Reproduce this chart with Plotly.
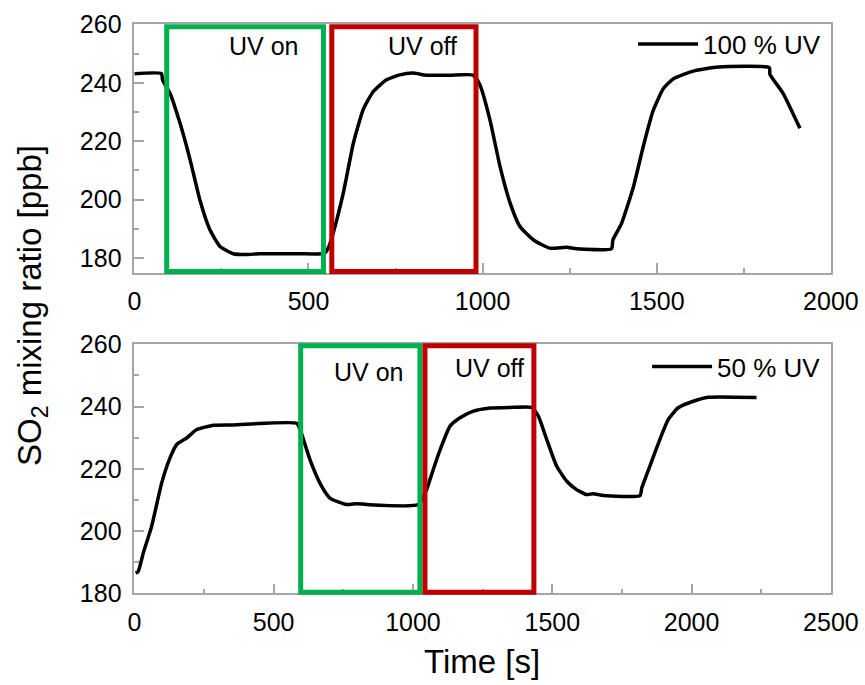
import plotly.graph_objects as go

# SO2 mixing ratio during UV on/off cycles, 100 % UV intensity
t_100 = [0, 78, 81, 102, 131, 160, 188, 217, 246, 284, 322, 361, 475, 545, 557, 571,
         600, 629, 657, 686, 724, 762, 800, 839, 906, 973, 992, 1021, 1050, 1079,
         1107, 1146, 1193, 1241, 1270, 1370, 1374, 1399, 1433, 1461, 1490, 1519,
         1548, 1605, 1677, 1823, 1825, 1863, 1911]
so2_100 = [243.1, 243.1, 241.0, 236.5, 226.2, 213.7, 200.0, 189.7, 184.0, 181.5, 181.2,
           181.5, 181.5, 181.6, 183.5, 188.6, 202.3, 219.4, 230.8, 237.0, 241.0, 242.7,
           243.3, 242.6, 242.6, 242.6, 239.3, 227.3, 211.3, 198.8, 190.8, 186.2, 183.4,
           183.7, 183.2, 183.2, 186.2, 191.9, 204.4, 218.1, 230.6, 238.0, 241.4, 244.0,
           245.4, 245.2, 242.9, 236.3, 224.4]

# SO2 mixing ratio during UV on/off cycles, 50 % UV intensity
t_50 = [5, 14, 32, 62, 98, 128, 152, 188, 224, 284, 355, 583, 595, 630, 666, 702, 762,
        798, 834, 1019, 1049, 1061, 1085, 1097, 1133, 1169, 1217, 1277, 1348, 1426,
        1450, 1480, 1516, 1552, 1587, 1623, 1647, 1683, 1815, 1821, 1850, 1886, 1916,
        1952, 2006, 2060, 2233]
so2_50 = [186.4, 187.0, 192.9, 201.5, 215.4, 223.5, 227.8, 229.9, 232.6, 234.0, 234.1,
          234.6, 232.6, 223.0, 215.4, 210.6, 208.5, 208.8, 208.5, 208.5, 213.3, 216.5,
          223.0, 226.0, 233.7, 236.4, 238.5, 239.5, 239.7, 239.7, 236.9, 229.4, 220.8,
          216.0, 213.3, 211.7, 212.0, 211.4, 211.4, 213.8, 220.8, 229.4, 235.8, 239.6,
          241.7, 243.0, 242.9]

# UV periods (start, end) highlighted by boxes
uv_on_100 = (93, 543)
uv_off_100 = (567, 981)
uv_on_50 = (597, 1025)
uv_off_50 = (1043, 1434)

FONT = "Liberation Sans, Arial, sans-serif"
GREEN = "#00B050"
RED = "#C00000"
FRAME = "#A6A6A6"

fig = go.Figure()
fig.add_trace(go.Scatter(x=t_100, y=so2_100, mode="lines", name="100 % UV",
                         line=dict(color="black", width=3.5, shape="spline", smoothing=0.5),
                         xaxis="x", yaxis="y", legend="legend"))
fig.add_trace(go.Scatter(x=t_50, y=so2_50, mode="lines", name="50 % UV",
                         line=dict(color="black", width=3.5, shape="spline", smoothing=0.5),
                         xaxis="x2", yaxis="y2", legend="legend2"))

axis_common = dict(
    showline=True, linecolor=FRAME, linewidth=1.5, mirror=True,
    ticks="inside", ticklen=10, tickwidth=1.5, tickcolor=FRAME,
    showgrid=False, zeroline=False, automargin=False,
    tickfont=dict(family=FONT, size=25, color="black"),
)
minor_common = dict(ticks="inside", ticklen=5, tickcolor=FRAME, tickwidth=1.5)
legend_common = dict(xanchor="right", yanchor="top", itemwidth=60,
                     bgcolor="rgba(0,0,0,0)", font=dict(family=FONT, size=26, color="black"))
xdom = [0.1553, 0.9606]
fig.update_layout(
    width=865, height=685,
    margin=dict(l=0, r=0, t=0, b=0, autoexpand=False),
    paper_bgcolor="white", plot_bgcolor="white",
    xaxis=dict(domain=xdom, range=[0, 2000], dtick=500, anchor="y",
               minor=dict(dtick=250, **minor_common), ticklabelstandoff=6, **axis_common),
    yaxis=dict(domain=[0.6019, 0.9645], range=[175, 260], dtick=20, anchor="x",
               minor=dict(dtick=10, **minor_common), ticklabelstandoff=6, **axis_common),
    xaxis2=dict(domain=xdom, range=[0, 2500], dtick=500, anchor="y2",
                minor=dict(dtick=250, **minor_common), ticklabelstandoff=6, **axis_common),
    yaxis2=dict(domain=[0.1339, 0.4974], range=[180, 260], dtick=20, anchor="x2",
                minor=dict(dtick=10, **minor_common), ticklabelstandoff=6, **axis_common),
    legend=dict(x=0.955, y=0.97, **legend_common),
    legend2=dict(x=0.955, y=0.499, **legend_common),
    showlegend=True,
)

# UV on / off boxes
for (x0, x1), color, xr, yr, ylo, yhi in [
    (uv_on_100, GREEN, "x", "y domain", 0.005, 0.99),
    (uv_off_100, RED, "x", "y domain", 0.005, 0.99),
    (uv_on_50, GREEN, "x2", "y2 domain", 0.004, 0.994),
    (uv_off_50, RED, "x2", "y2 domain", 0.004, 0.994),
]:
    fig.add_shape(type="rect", xref=xr, yref=yr, x0=x0, x1=x1, y0=ylo, y1=yhi,
                  line=dict(color=color, width=5), fillcolor="rgba(0,0,0,0)", layer="above")

# Box labels
labels = [("UV on", 370, 252.6, "x", "y"), ("UV off", 827, 252.6, "x", "y"),
          ("UV on", 842, 251.1, "x2", "y2"), ("UV off", 1276, 252.3, "x2", "y2")]
for text, x, y, xr, yr in labels:
    fig.add_annotation(text=text, x=x, y=y, xref=xr, yref=yr, showarrow=False,
                       xanchor="center", yanchor="middle",
                       font=dict(family=FONT, size=25, color="black"))

# Axis titles
fig.add_annotation(text="SO<sub>2</sub> mixing ratio [ppb]", xref="paper", yref="paper",
                   x=32 / 865, y=1 - 306 / 685, textangle=-90, showarrow=False,
                   xanchor="center", yanchor="middle",
                   font=dict(family=FONT, size=33, color="black"))
fig.add_annotation(text="Time [s]", xref="paper", yref="paper",
                   x=482 / 865, y=1 - 661 / 685, showarrow=False,
                   xanchor="center", yanchor="middle",
                   font=dict(family=FONT, size=33, color="black"))

fig.write_html("out.html")
